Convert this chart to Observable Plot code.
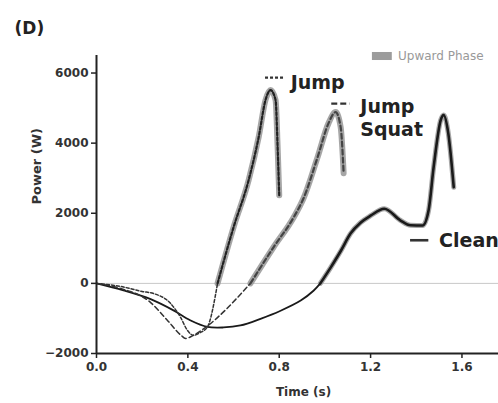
<!DOCTYPE html>
<html>
<head>
<meta charset="utf-8">
<script src="https://cdn.jsdelivr.net/npm/d3@7"></script>
<script src="https://cdn.jsdelivr.net/npm/@observablehq/plot@0.6"></script>
<style>
  html, body { margin: 0; padding: 0; background: #fff; }
  #chart svg { display: block; }
</style>
</head>
<body>
<div id="chart"></div>
<script>
// Time (s), Power (W)
const jumpDown = [[0,0],[0.1,-80],[0.2,-230],[0.25,-290],[0.324,-570],[0.368,-970],[0.398,-1340],[0.425,-1480],[0.455,-1400],[0.485,-1250],[0.53,0]];
const jumpUp = [[0.53,0],[0.6,1600],[0.666,2943],[0.71,4170],[0.74,5230],[0.762,5514],[0.784,5230],[0.793,3886],[0.80,2514]];
const squatDown = [[0,0],[0.105,-143],[0.236,-540],[0.31,-1050],[0.37,-1480],[0.39,-1570],[0.425,-1480],[0.47,-1290],[0.674,0]];
const squatUp = [[0.674,0],[0.775,1030],[0.863,1880],[0.906,2420],[0.968,3600],[1.016,4571],[1.047,4886],[1.069,4457],[1.082,3143]];
const cleanDown = [[0,0],[0.118,-200],[0.237,-450],[0.337,-770],[0.41,-1050],[0.485,-1240],[0.556,-1257],[0.63,-1200],[0.718,-1010],[0.806,-780],[0.894,-490],[0.95,-210],[0.98,0]];
const cleanUp = [[0.98,0],[1.025,450],[1.07,930],[1.112,1420],[1.156,1730],[1.2,1930],[1.26,2130],[1.33,1800],[1.375,1657],[1.428,1650],[1.454,2086],[1.476,3314],[1.507,4657],[1.52,4800],[1.54,4286],[1.564,2743]];

const xTicks = [0, 0.4, 0.8, 1.2, 1.6];
const yTicks = [-2000, 0, 2000, 4000, 6000];

// Series labels (anchor positions in data units)
const labelRows = [
  {t: "Jump", x: 0.85, y: 5730},
  {t: "Jump", x: 1.155, y: 5020},
  {t: "Squat", x: 1.155, y: 4364},
  {t: "Clean", x: 1.5, y: 1200}
];
// line-style swatches next to the labels
const swatchJump = [{x1: 0.74, x2: 0.82, y: 5870}];
const swatchSquat = [{x1: 1.03, x2: 1.11, y: 5130}];
const swatchClean = [{x1: 1.375, x2: 1.455, y: 1230}];
const legendItems = [{label: "Upward Phase", x1: 1.208, x2: 1.295, y1: 6357, y2: 6586, tx: 1.32, ty: 6480}];

const L = {x: d => d[0], y: d => d[1], curve: "monotone-x"};

const chart = Plot.plot({
  width: 498,
  height: 403,
  marginLeft: 96,
  marginRight: 0,
  marginTop: 55,
  marginBottom: 50,
  style: {fontFamily: "DejaVu Sans, sans-serif", background: "#fff", overflow: "visible"},
  x: {domain: [0, 1.76]},
  y: {domain: [-2000, 6500]},
  marks: [
    Plot.ruleY([0], {stroke: "#c8c8c8", strokeWidth: 1}),
    // upward-phase highlight
    Plot.line(jumpUp, {...L, stroke: "#9c9c9c", strokeWidth: 6, strokeOpacity: 0.9}),
    Plot.line(squatUp, {...L, stroke: "#9c9c9c", strokeWidth: 6, strokeOpacity: 0.9}),
    Plot.line(cleanUp, {...L, stroke: "#9c9c9c", strokeWidth: 5, strokeOpacity: 0.9}),
    // series
    Plot.line(cleanDown, {...L, curve: "catmull-rom", stroke: "#1a1a1a", strokeWidth: 1.8}),
    Plot.line(cleanUp, {...L, stroke: "#1a1a1a", strokeWidth: 2.6}),
    Plot.line(squatDown, {...L, stroke: "#333", strokeWidth: 1.5, strokeDasharray: "5,3"}),
    Plot.line(squatUp, {...L, stroke: "#444", strokeWidth: 2.2, strokeDasharray: "5,3"}),
    Plot.line(jumpDown, {...L, stroke: "#333", strokeWidth: 1.5, strokeDasharray: "3,2"}),
    Plot.line(jumpUp, {...L, stroke: "#222", strokeWidth: 2.2, strokeDasharray: "3,2"}),
    // axes lines
    Plot.ruleX([0], {stroke: "#222", strokeWidth: 2}),
    Plot.ruleY([-2000], {stroke: "#222", strokeWidth: 2}),
    Plot.axisY({ticks: yTicks, tickSize: 5, tickPadding: 3, label: null, fontSize: 12, fontWeight: "bold", fill: "#333", stroke: "#222", strokeWidth: 1.5, tickFormat: d3.format("d")}),
    Plot.axisX({ticks: xTicks, tickSize: 5, tickPadding: 4, label: null, fontSize: 12, fontWeight: "bold", fill: "#333", stroke: "#222", strokeWidth: 1.5, tickFormat: d3.format(".1f")}),
    Plot.text(["Power (W)"], {frameAnchor: "left", dx: -60, rotate: -90, fontSize: 13, fontWeight: "bold", fill: "#333"}),
    Plot.text(["Time (s)"], {frameAnchor: "bottom", dx: 6, dy: 42, fontSize: 12, fontWeight: "bold", fill: "#333"}),
    Plot.text(["(D)"], {frameAnchor: "top-left", dx: -82, dy: -34, textAnchor: "start", fontSize: 17, fontWeight: "bold", fill: "#222"}),
    // series labels + swatches
    Plot.ruleY(swatchJump, {x1: "x1", x2: "x2", y: "y", stroke: "#333", strokeWidth: 2.2, strokeDasharray: "3,2"}),
    Plot.ruleY(swatchSquat, {x1: "x1", x2: "x2", y: "y", stroke: "#333", strokeWidth: 2.2, strokeDasharray: "6,3"}),
    Plot.ruleY(swatchClean, {x1: "x1", x2: "x2", y: "y", stroke: "#333", strokeWidth: 2.6}),
    Plot.text(labelRows, {x: "x", y: "y", text: "t", textAnchor: "start", fontSize: 19, fontWeight: "bold", fill: "#222"}),
    // upward phase legend
    Plot.rect(legendItems, {x1: "x1", x2: "x2", y1: "y1", y2: "y2", fill: "#9c9c9c"}),
    Plot.text(legendItems, {x: "tx", y: "ty", text: "label", textAnchor: "start", fontSize: 12, fill: "#999"})
  ]
});
document.getElementById("chart").appendChild(chart);
</script>
</body>
</html>
